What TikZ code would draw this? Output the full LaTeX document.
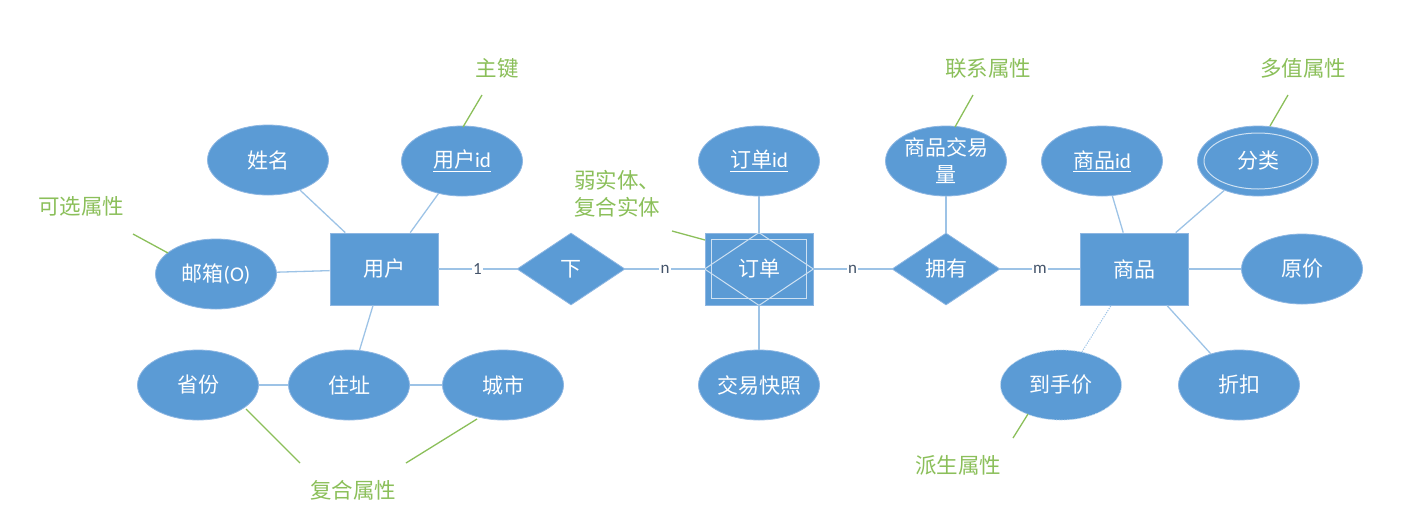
\documentclass[tikz,border=0pt]{standalone}
\usepackage{fontspec}
\setmainfont{Noto Sans CJK SC}
\newfontfamily\lat{Carlito}
\usetikzlibrary{shapes.geometric}
\definecolor{boxblue}{HTML}{5B9BD5}
\definecolor{edgeblue}{HTML}{9DC3E6}
\definecolor{rimblue}{HTML}{8DB6E2}
\definecolor{notegreen}{HTML}{8BBF5A}
\definecolor{labgray}{HTML}{44546A}
\tikzset{
  ent/.style={rectangle, fill=boxblue, draw=rimblue, line width=0.8pt, minimum width=108pt, minimum height=72pt, inner sep=0pt, text=white, font=\fontsize{21}{24}\selectfont},
  attr/.style={ellipse, fill=boxblue, draw=rimblue, line width=0.8pt, minimum width=121pt, minimum height=70pt, inner sep=0pt, text=white, font=\fontsize{21}{27}\selectfont, align=center},
  rel/.style={diamond, fill=boxblue, draw=rimblue, line width=0.8pt, minimum width=108pt, minimum height=72pt, inner sep=0pt, text=white, font=\fontsize{21}{24}\selectfont},
  conn/.style={draw=edgeblue, line width=1.3pt},
  note/.style={text=notegreen, font=\fontsize{21.5}{27}\selectfont, inner sep=0pt, align=left},
  noteline/.style={draw=notegreen, line width=1.3pt},
  card/.style={fill=white, text=labgray, font=\lat\fontsize{17}{18}\selectfont, inner sep=1.5pt},
  inner/.style={draw=white!70!boxblue, line width=1pt}
}
\begin{document}
\begin{tikzpicture}[x=1pt,y=-1pt]
\useasboundingbox (0,0) rectangle (1413,531);
% entities
\node[ent] (user) at (384,269) {用户};
\node[ent] (order) at (759,269) {};
\node[ent] (goods) at (1134,269) {商品};
% weak entity decoration
\draw[inner] ([xshift=7pt,yshift=-7pt]order.north west) rectangle ([xshift=-7pt,yshift=7pt]order.south east);
\draw[inner] (order.west) -- (order.north) -- (order.east) -- (order.south) -- cycle;
\node[text=white, font=\fontsize{21}{24}\selectfont] (ordertext) at (order.center) {订单};
% relations
\node[rel] (xia) at (571,269) {下};
\node[rel] (own) at (946,269) {拥有};
% attributes
\node[attr] (name) at (268,160) {姓名};
\node[attr] (uid) at (462,161) {\underline{用户{\lat id}}};
\node[attr] (mail) at (216,274) {邮箱{\lat (O)}};
\node[attr] (addr) at (349,385) {住址};
\node[attr] (prov) at (198,385) {省份};
\node[attr] (city) at (503,385) {城市};
\node[attr] (oid) at (759,161) {\underline{订单{\lat id}}};
\node[attr] (snap) at (759,385) {交易快照};
\node[attr] (qty) at (946,161) {商品交易\\量};
\node[attr] (gid) at (1102,161) {\underline{商品{\lat id}}};
\node[attr] (cat) at (1258,161) {};
\node[ellipse, inner, minimum width=108pt, minimum height=56pt, inner sep=0pt] (catin) at (cat.center) {};
\node[text=white, font=\fontsize{21}{24}\selectfont] (cattext) at (cat.center) {分类};
\node[attr] (price) at (1302,269) {原价};
\node[attr, draw=white!60!boxblue, dash pattern=on 0.8pt off 0.8pt] (final) at (1061,385) {到手价};
\node[attr] (disc) at (1239,385) {折扣};
% connectors
\draw[conn] (name) -- (user);
\draw[conn] (uid) -- (user);
\draw[conn] (mail) -- (user);
\draw[conn] (addr) -- (user);
\draw[conn] (prov) -- (addr);
\draw[conn] (addr) -- (city);
\draw[conn] (user) -- node[card] {1} (xia);
\draw[conn] (xia) -- node[card] {n} (order);
\draw[conn] (order) -- node[card] {n} (own);
\draw[conn] (own) -- node[card] {m} (goods);
\draw[conn] (oid) -- (order);
\draw[conn] (snap) -- (order);
\draw[conn] (qty) -- (own);
\draw[conn] (gid) -- (goods);
\draw[conn] (cat) -- (goods);
\draw[conn] (price) -- (goods);
\draw[conn, line width=1pt, dash pattern=on 1.2pt off 1.2pt] (final) -- (goods);
\draw[conn] (disc) -- (goods);
% notes
\node[note] (n1) at (497,68) {主键};
\node[note] (n2) at (81,206) {可选属性};
\node[note, anchor=west] (n3) at (574,194) {弱实体、\\复合实体};
\node[note] (n4) at (988,68) {联系属性};
\node[note] (n5) at (1303,68) {多值属性};
\node[note] (n6) at (958,465) {派生属性};
\node[note] (n7) at (353,490) {复合属性};
\coordinate (a1) at (482,95); \coordinate (b1) at (463,127);
\coordinate (a2) at (133,234); \coordinate (b2) at (168,253);
\coordinate (a3) at (672,231); \coordinate (b3) at (705,240);
\coordinate (a4) at (973,95); \coordinate (b4) at (955,127);
\coordinate (a5) at (1288,95); \coordinate (b5) at (1270,126);
\coordinate (a6) at (1013,438); \coordinate (b6) at (1028,414);
\coordinate (a7) at (300,463); \coordinate (b7) at (246,409);
\coordinate (a8) at (406,463); \coordinate (b8) at (477,419);
\draw[noteline] (a1) -- (b1);
\draw[noteline] (a2) -- (b2);
\draw[noteline] (a3) -- (b3);
\draw[noteline] (a4) -- (b4);
\draw[noteline] (a5) -- (b5);
\draw[noteline] (a6) -- (b6);
\draw[noteline] (a7) -- (b7);
\draw[noteline] (a8) -- (b8);
\end{tikzpicture}
\end{document}
